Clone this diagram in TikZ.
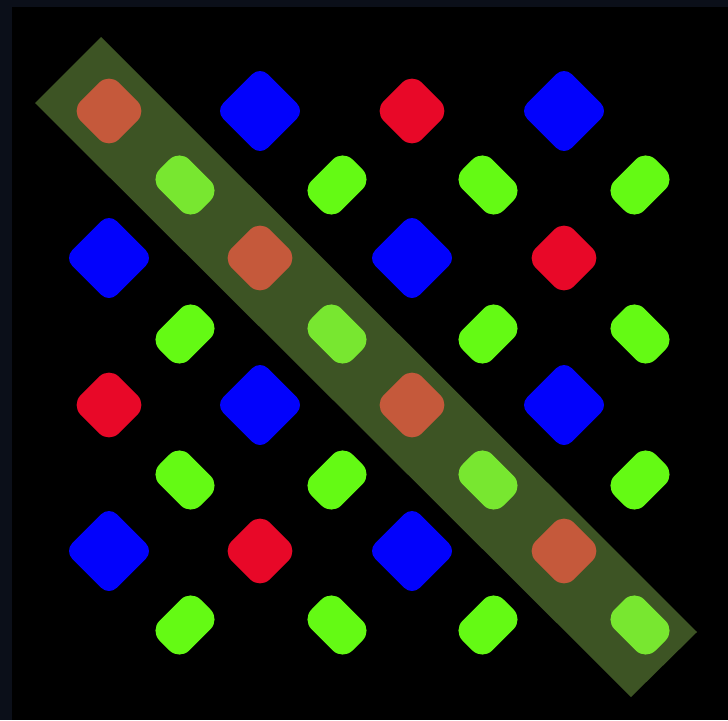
\documentclass[tikz,border=0pt]{standalone}
\definecolor{framecol}{RGB}{11,15,25}
\definecolor{pixblue}{RGB}{2,2,252}
\definecolor{pixred}{RGB}{232,8,40}
\definecolor{pixgreen}{RGB}{100,250,20}
\definecolor{bandcol}{RGB}{149,205,88}
\tikzset{
  pixbase/.style={rectangle, draw=none, inner sep=0pt, outer sep=0pt},
  bluepix/.style={pixbase, fill=pixblue, minimum width=63pt, minimum height=63pt, rounded corners=11pt, rotate=45},
  redpix/.style={pixbase, fill=pixred, minimum width=54pt, minimum height=54pt, rounded corners=14pt, rotate=45},
  greenpix/.style={pixbase, fill=pixgreen, minimum width=58pt, minimum height=42pt, rounded corners=14pt},
  bandstyle/.style={fill=bandcol, fill opacity=0.41, draw=none}
}
\begin{document}
\begin{tikzpicture}[x=1pt,y=-1pt]
\useasboundingbox (0,0) rectangle (728,720);
\fill[framecol] (0,0) rectangle (728,720);
\fill[black] (12,7) rectangle (728,720);
% large subpixels (red / blue)
\foreach \i/\x in {0/109,1/260,2/412,3/564}{
  \foreach \j/\y in {0/111,1/258,2/405,3/551}{
    \pgfmathtruncatemacro{\p}{mod(\i+\j,2)}
    \ifnum\p=0
      \node[redpix] (big-\i-\j) at (\x,\y) {};
    \else
      \node[bluepix] (big-\i-\j) at (\x,\y) {};
    \fi
  }
}
% green subpixels
\foreach \i/\x in {0/185,1/337,2/488,3/640}{
  \foreach \j/\y in {0/185,1/334,2/480,3/625}{
    \pgfmathtruncatemacro{\p}{mod(\i+\j,2)}
    \ifnum\p=0
      \node[greenpix, rotate=-45] (grn-\i-\j) at (\x,\y) {};
    \else
      \node[greenpix, rotate=45] (grn-\i-\j) at (\x,\y) {};
    \fi
  }
}
% translucent diagonal band
\coordinate (bandA) at (101,37);
\coordinate (bandB) at (697,632);
\coordinate (bandC) at (631,697);
\coordinate (bandD) at (35,103);
\fill[bandstyle] (bandA) -- (bandB) -- (bandC) -- (bandD) -- cycle;
\end{tikzpicture}
\end{document}
